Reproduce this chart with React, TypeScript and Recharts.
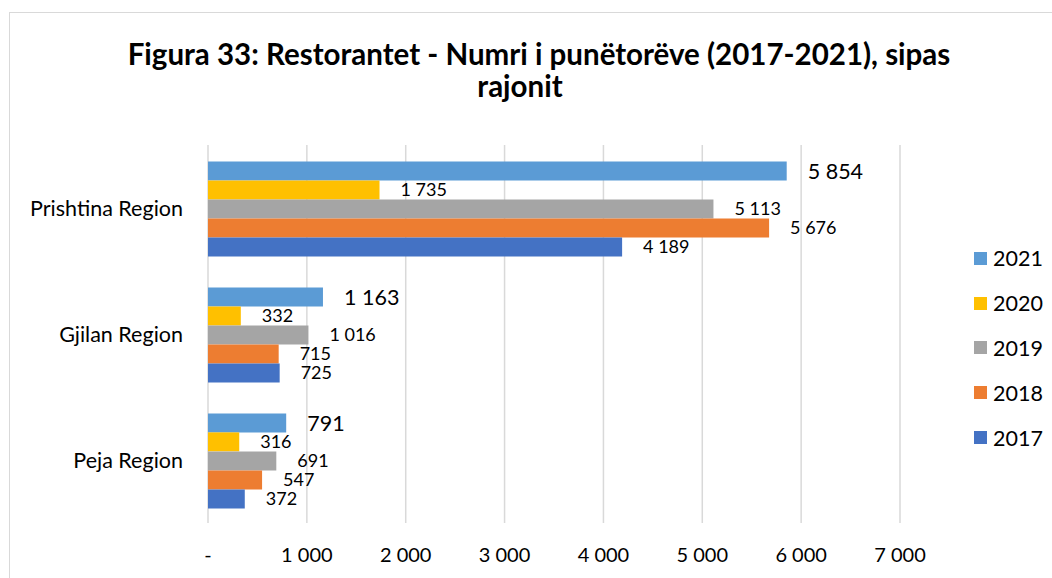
import { BarChart, Bar, XAxis, YAxis, CartesianGrid, LabelList } from "recharts";

const regions = ["Prishtina Region", "Gjilan Region", "Peja Region"];
const years = ["2021", "2020", "2019", "2018", "2017"];
const values2021 = [5854, 1163, 791];
const values2020 = [1735, 332, 316];
const values2019 = [5113, 1016, 691];
const values2018 = [5676, 715, 547];
const values2017 = [4189, 725, 372];
const xTicks = [0, 1000, 2000, 3000, 4000, 5000, 6000, 7000];

const colors: Record<string, string> = {
  "2021": "#5B9BD5",
  "2020": "#FFC000",
  "2019": "#A5A5A5",
  "2018": "#ED7D31",
  "2017": "#4472C4",
};

const seriesValues: Record<string, number[]> = {
  "2021": values2021,
  "2020": values2020,
  "2019": values2019,
  "2018": values2018,
  "2017": values2017,
};

const data = regions.map((region, i) => {
  const row: Record<string, string | number> = { region };
  years.forEach((y) => {
    row[y] = seriesValues[y][i];
  });
  return row;
});

const FONT = "Lato, 'Open Sans', sans-serif";

function fmt(v: number): string {
  if (v === 0) return "-";
  return String(v).replace(/\B(?=(\d{3})+(?!\d))/g, " ");
}

// legend drawn as plain html so it doesn't eat into the plot width
function LegendBox() {
  return (
    <div
      style={{
        position: "absolute",
        left: 974,
        top: 236,
        fontFamily: FONT,
        fontSize: 21.5,
        color: "#000",
      }}
    >
      {years.map((y) => (
        <div
          key={y}
          style={{ display: "flex", alignItems: "center", height: 44.8 }}
        >
          <span
            style={{
              width: 13,
              height: 13,
              background: colors[y],
              display: "inline-block",
              marginRight: 6,
            }}
          />
          <span>{y}</span>
        </div>
      ))}
    </div>
  );
}

export default function App() {
  return (
    <div
      style={{
        position: "absolute",
        left: 0,
        top: 0,
        width: 1052,
        height: 578,
        overflow: "hidden",
        background: "#fff",
      }}
    >
      <div
        style={{
          position: "absolute",
          left: 9,
          top: 12,
          width: 1100,
          height: 620,
          border: "1px solid #d9d9d9",
        }}
      />
      <svg
        width={1052}
        height={120}
        style={{ position: "absolute", left: 0, top: 0 }}
      >
        <text
          x={539}
          y={65}
          textAnchor="middle"
          fontFamily={FONT}
          fontWeight="bold"
          fontSize={29.5}
          fill="#000"
        >
          Figura 33: Restorantet - Numri i punëtorëve (2017-2021), sipas
        </text>
        <text
          x={520}
          y={97}
          textAnchor="middle"
          fontFamily={FONT}
          fontWeight="bold"
          fontSize={29.5}
          fill="#000"
        >
          rajonit
        </text>
      </svg>
      <div style={{ position: "absolute", left: 0, top: 0 }}>
        <BarChart
          width={1052}
          height={578}
          data={data}
          layout="vertical"
          margin={{ top: 145, right: 152, bottom: 0, left: 0 }}
          barCategoryGap="13%"
          barGap={0}
        >
          <CartesianGrid
            horizontal={false}
            stroke="#d9d9d9"
            strokeWidth={1.5}
          />
          <XAxis
            type="number"
            domain={[0, 7000]}
            ticks={xTicks}
            tickFormatter={fmt}
            axisLine={false}
            tickLine={false}
            tickSize={0}
            tickMargin={25}
            height={55}
            interval={0}
            tick={{ fill: "#000", fontSize: 20, fontFamily: FONT }}
          />
          <YAxis
            type="category"
            dataKey="region"
            width={208}
            axisLine={false}
            tickLine={false}
            tickSize={0}
            tickMargin={25}
            tick={{ fill: "#000", fontSize: 21.5, fontFamily: FONT }}
          />
          {years.map((y) => (
            <Bar
              key={y}
              dataKey={y}
              fill={colors[y]}
              isAnimationActive={false}
            >
              <LabelList
                dataKey={y}
                position="right"
                offset={21}
                formatter={(v: any) => fmt(Number(v))}
                style={{
                  fill: "#000",
                  fontSize: y === "2021" ? 21.5 : 18,
                  fontFamily: FONT,
                }}
              />
            </Bar>
          ))}
        </BarChart>
      </div>
      <LegendBox />
    </div>
  );
}
